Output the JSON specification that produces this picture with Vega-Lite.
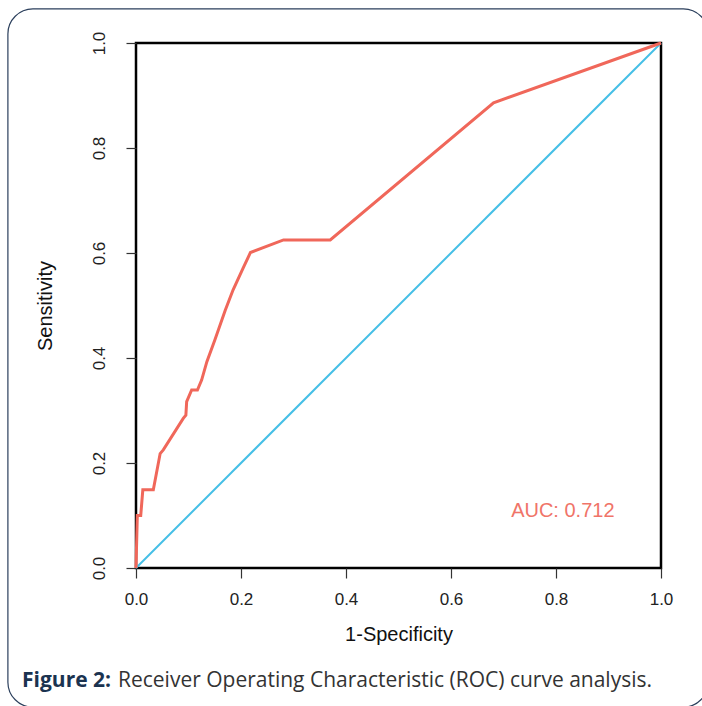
{
  "$schema": "https://vega.github.io/schema/vega-lite/v6.json",
  "width": 525,
  "height": 525,
  "autosize": {"type": "none"},
  "padding": {"left": 136, "top": 43, "right": 41, "bottom": 138},
  "background": "white",
  "config": {
    "view": {"stroke": "black", "strokeWidth": 2.5},
    "axis": {
      "grid": false,
      "domain": false,
      "tickColor": "#333333",
      "tickWidth": 1.2,
      "tickSize": 10,
      "labelFont": "Liberation Sans",
      "labelFontSize": 17,
      "labelColor": "#222222",
      "labelFlush": false,
      "labelOverlap": false,
      "titleFont": "Liberation Sans",
      "titleFontSize": 20,
      "titleFontWeight": "normal",
      "titleColor": "#111111"
    }
  },
  "datasets": {
    "roc": [
      {"fpr": 0, "tpr": 0},
      {"fpr": 0.0025, "tpr": 0.1},
      {"fpr": 0.009, "tpr": 0.1},
      {"fpr": 0.013, "tpr": 0.149},
      {"fpr": 0.033, "tpr": 0.149},
      {"fpr": 0.046, "tpr": 0.218},
      {"fpr": 0.052, "tpr": 0.225},
      {"fpr": 0.09, "tpr": 0.285},
      {"fpr": 0.095, "tpr": 0.291},
      {"fpr": 0.0965, "tpr": 0.317},
      {"fpr": 0.106, "tpr": 0.339},
      {"fpr": 0.117, "tpr": 0.339},
      {"fpr": 0.125, "tpr": 0.358},
      {"fpr": 0.135, "tpr": 0.393},
      {"fpr": 0.15, "tpr": 0.434},
      {"fpr": 0.17, "tpr": 0.491},
      {"fpr": 0.185, "tpr": 0.53},
      {"fpr": 0.204, "tpr": 0.571},
      {"fpr": 0.218, "tpr": 0.601},
      {"fpr": 0.281, "tpr": 0.625},
      {"fpr": 0.37, "tpr": 0.625},
      {"fpr": 0.681, "tpr": 0.886},
      {"fpr": 1, "tpr": 1}
    ],
    "diag": [
      {"fpr": 0, "tpr": 0},
      {"fpr": 1, "tpr": 1}
    ],
    "auc": [{"label": "AUC: 0.712"}],
    "cap1": [{"label": "Figure 2:"}],
    "cap2": [{"label": "Receiver Operating Characteristic (ROC) curve analysis."}]
  },
  "layer": [
    {
      "data": {"name": "diag"},
      "mark": {"type": "line", "color": "#45BFE6", "strokeWidth": 2},
      "encoding": {
        "x": {
          "field": "fpr", "type": "quantitative",
          "scale": {"domain": [0, 1], "nice": false},
          "axis": {"values": [0, 0.2, 0.4, 0.6, 0.8, 1], "format": ".1f", "labelPadding": 13, "titlePadding": 17, "title": "1-Specificity"}
        },
        "y": {
          "field": "tpr", "type": "quantitative",
          "scale": {"domain": [0, 1], "nice": false},
          "axis": {"values": [0, 0.2, 0.4, 0.6, 0.8, 1], "format": ".1f", "labelAngle": -90, "labelAlign": "center", "labelBaseline": "bottom", "labelPadding": 18, "titlePadding": 35, "title": "Sensitivity"}
        }
      }
    },
    {
      "data": {"name": "roc"},
      "mark": {"type": "line", "color": "#F0675A", "strokeWidth": 3},
      "encoding": {
        "x": {"field": "fpr", "type": "quantitative", "title": "1-Specificity"},
        "y": {"field": "tpr", "type": "quantitative", "title": "Sensitivity"}
      }
    },
    {
      "data": {"name": "auc"},
      "mark": {"type": "text", "color": "#F07468", "font": "Liberation Sans", "fontSize": 20, "align": "center", "baseline": "alphabetic"},
      "encoding": {
        "x": {"datum": 0.813, "type": "quantitative"},
        "y": {"datum": 0.097, "type": "quantitative"},
        "text": {"field": "label"}
      }
    },
    {
      "data": {"values": [{}]},
      "mark": {"type": "rect", "fill": null, "stroke": "#2B3F5C", "strokeWidth": 1.2, "cornerRadius": 25},
      "encoding": {
        "x": {"datum": -0.244, "type": "quantitative"},
        "x2": {"datum": 1.09},
        "y": {"datum": 1.065, "type": "quantitative"},
        "y2": {"datum": -0.265}
      }
    },
    {
      "data": {"name": "cap1"},
      "mark": {"type": "text", "color": "#1B3350", "font": "Open Sans", "fontSize": 21, "fontWeight": "bold", "align": "left", "baseline": "alphabetic"},
      "encoding": {
        "x": {"datum": -0.217, "type": "quantitative"},
        "y": {"datum": -0.226, "type": "quantitative"},
        "text": {"field": "label"}
      }
    },
    {
      "data": {"name": "cap2"},
      "mark": {"type": "text", "color": "#333333", "font": "Open Sans", "fontSize": 21, "align": "left", "baseline": "alphabetic"},
      "encoding": {
        "x": {"datum": -0.0343, "type": "quantitative"},
        "y": {"datum": -0.226, "type": "quantitative"},
        "text": {"field": "label"}
      }
    }
  ]
}
